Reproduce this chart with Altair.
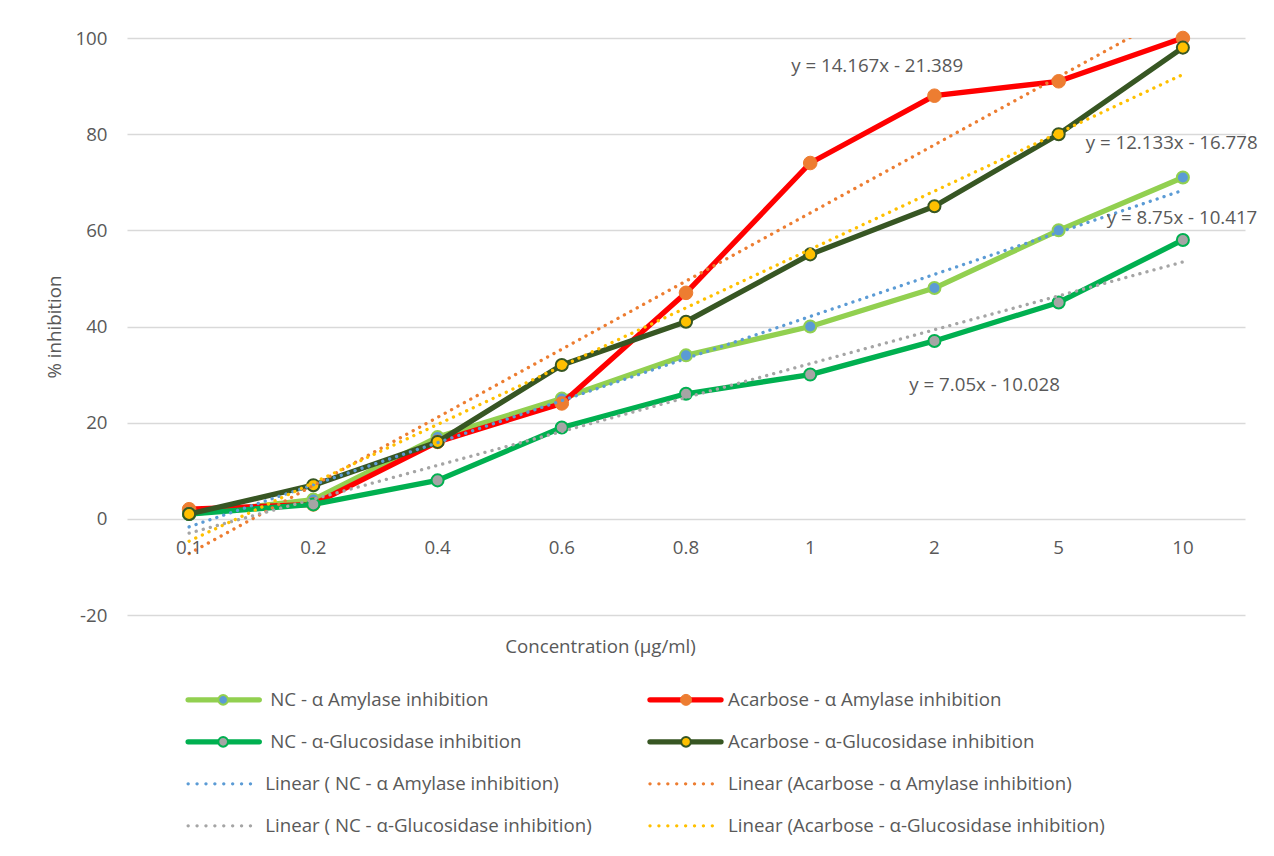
import altair as alt
import pandas as pd

# ---------------- data ----------------
categories = ["0.1", "0.2", "0.4", "0.6", "0.8", "1", "2", "5", "10"]
nc_amylase = [1, 4, 17, 25, 34, 40, 48, 60, 71]
acarbose_amylase = [2, 3, 16, 24, 47, 74, 88, 91, 100]
nc_glucosidase = [1, 3, 8, 19, 26, 30, 37, 45, 58]
acarbose_glucosidase = [1, 7, 16, 32, 41, 55, 65, 80, 98]

series_names = [
    "NC - α Amylase inhibition",
    "Acarbose - α Amylase inhibition",
    "NC - α-Glucosidase inhibition",
    "Acarbose - α-Glucosidase inhibition",
]
trend_names = [
    "Linear ( NC - α Amylase inhibition)",
    "Linear (Acarbose - α Amylase inhibition)",
    "Linear ( NC - α-Glucosidase inhibition)",
    "Linear (Acarbose - α-Glucosidase inhibition)",
]
equation_labels = ["y = 8.75x - 10.417", "y = 14.167x - 21.389",
                   "y = 7.05x - 10.028", "y = 12.133x - 16.778"]
equation_x = [8.387, 5.847, 6.798, 8.218]
equation_y = [62.6, 94.2, 27.9, 78.2]

series_values = [nc_amylase, acarbose_amylase, nc_glucosidase, acarbose_glucosidase]

# ---------------- styles ----------------
TXT = "#595959"
FONT = "Open Sans"
FS = 18.7
DOTS = [0.1, 7.2]
styles = [
    dict(line="#92D050", fill="#5B9BD5", stroke="#92D050", sw=2, size=145, trend="#5B9BD5"),
    dict(line="#FF0000", fill="#ED7D31", stroke="#ED7D31", sw=1, size=185, trend="#ED7D31"),
    dict(line="#00B050", fill="#A5A5A5", stroke="#00B050", sw=2, size=145, trend="#A5A5A5"),
    dict(line="#375623", fill="#FFC000", stroke="#375623", sw=2, size=145, trend="#FFC000"),
]

rows = []
for name, vals in zip(series_names, series_values):
    for i, (c, v) in enumerate(zip(categories, vals)):
        rows.append(dict(idx=i + 1, category=c, value=v, series=name))
df = pd.DataFrame(rows)

X = alt.X("idx:Q", scale=alt.Scale(domain=[0.5, 9.5], nice=False, zero=False),
          axis=alt.Axis(labels=False, ticks=False, domain=False, grid=False,
                        title="Concentration (µg/ml)", titleFont=FONT, titleFontSize=FS,
                        titleFontWeight="normal", titleColor=TXT, titlePadding=22,
                        titleX=473, titleAlign="center"))
Y = alt.Y("value:Q", scale=alt.Scale(domain=[-20, 100], nice=False, zero=False),
          axis=alt.Axis(values=list(range(-20, 101, 20)), domain=False, ticks=False, tickSize=0,
                        grid=True, gridColor="#D9D9D9", gridWidth=1.3,
                        labelExpr="'' + datum.value",
                        labelFont=FONT, labelFontSize=FS, labelColor=TXT, labelPadding=20,
                        title="% inhibition", titleFont=FONT, titleFontSize=FS,
                        titleFontWeight="normal", titleColor=TXT, titlePadding=10))

layers = []
# series lines + markers, in Excel's order
for name, st in zip(series_names, styles):
    base = alt.Chart(df).transform_filter(alt.datum.series == name)
    layers.append(base.mark_line(color=st["line"], strokeWidth=5.3, strokeJoin="round",
                                 strokeCap="round").encode(x=X, y=Y))
    layers.append(base.mark_point(shape="circle", filled=True, fill=st["fill"], stroke=st["stroke"],
                                  strokeWidth=st["sw"], size=st["size"], opacity=1).encode(x=X, y=Y))

# linear trendlines computed by the library
for name, st in zip(series_names, styles):
    layers.append(
        alt.Chart(df).transform_filter(alt.datum.series == name)
        .transform_regression("idx", "value", method="linear", extent=[1, 9])
        .mark_line(color=st["trend"], strokeWidth=3.3, strokeDash=DOTS, strokeCap="round", clip=True)
        .encode(x=X, y=Y)
    )

# category labels sitting under the zero line
cat_df = pd.DataFrame(dict(idx=list(range(1, len(categories) + 1)), category=categories,
                           value=[0] * len(categories)))
layers.append(alt.Chart(cat_df).mark_text(font=FONT, fontSize=FS, color=TXT, dy=29,
                                          baseline="middle").encode(x=X, y=Y, text="category:N"))

# trendline equations
eq_df = pd.DataFrame(dict(idx=equation_x, value=equation_y, label=equation_labels))
layers.append(alt.Chart(eq_df).mark_text(font=FONT, fontSize=FS, color=TXT, align="left",
                                         baseline="middle").encode(x=X, y=Y, text="label:N"))

# ---------------- legend (below plot, 2 columns x 4 rows) ----------------
leg_row_y = [-37.65, -46.38, -55.12, -63.85]
leg_cols = [dict(x0=0.992, x1=1.565, mark=1.274, text=1.653, ttext=1.613),
            dict(x0=4.71, x1=5.282, mark=5.0, text=5.339, ttext=5.339)]

leg_entries = []
for k, (name, st) in enumerate(zip(series_names, styles)):
    col, row = k % 2, k // 2
    leg_entries.append(dict(label=name, kind="series", st=st, col=col, row=row))
for k, (name, st) in enumerate(zip(trend_names, styles)):
    col, row = k % 2, 2 + k // 2
    leg_entries.append(dict(label=name, kind="trend", st=st, col=col, row=row))

for e in leg_entries:
    c = leg_cols[e["col"]]
    yv = leg_row_y[e["row"]]
    st = e["st"]
    seg = pd.DataFrame(dict(idx=[c["x0"]], idx2=[c["x1"]], value=[yv]))
    if e["kind"] == "series":
        layers.append(alt.Chart(seg).mark_rule(color=st["line"], strokeWidth=5.3, strokeCap="round")
                      .encode(x=X, x2="idx2:Q", y=Y))
        mk = pd.DataFrame(dict(idx=[c["mark"]], value=[yv]))
        layers.append(alt.Chart(mk).mark_point(shape="circle", filled=True, fill=st["fill"],
                                              stroke=st["stroke"], strokeWidth=st["sw"],
                                              size=st["size"] * 0.65, opacity=1).encode(x=X, y=Y))
        tx = c["text"]
    else:
        layers.append(alt.Chart(seg).mark_rule(color=st["trend"], strokeWidth=3.3, strokeDash=[0.1, 8.8],
                                               strokeCap="round").encode(x=X, x2="idx2:Q", y=Y))
        tx = c["ttext"]
    lab = pd.DataFrame(dict(idx=[tx], value=[yv], label=[e["label"]]))
    layers.append(alt.Chart(lab).mark_text(font=FONT, fontSize=FS, color=TXT, align="left",
                                           baseline="middle").encode(x=X, y=Y, text="label:N"))

chart = (
    alt.layer(*layers)
    .properties(width=1118, height=577,
                padding={"left": 119, "top": 30, "right": 21, "bottom": 225},
                autosize=alt.AutoSizeParams(type="none"))
    .configure(font=FONT, view={"stroke": "transparent"})
)

chart.save("out.html", embed_options={"renderer": "svg", "actions": False})
